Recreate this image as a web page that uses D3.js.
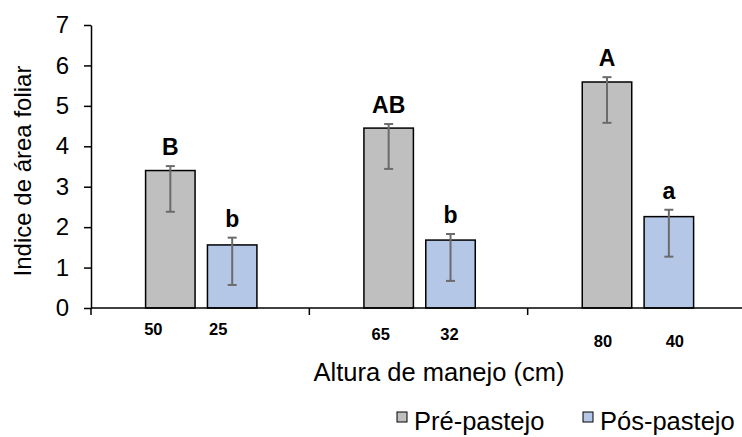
<!DOCTYPE html>
<meta charset="utf-8">
<script src="https://d3js.org/d3.v7.min.js"></script>
<style>
  body { margin: 0; background: #fff; }
  text { font-family: Arial, "Liberation Sans", sans-serif; }
</style>
<body>
<div id="canvas"></div>
<script>
// dados
var grupos = ["g1", "g2", "g3"];
var series = ["Pré-pastejo", "Pós-pastejo"];
var alturas = [["50", "25"], ["65", "32"], ["80", "40"]];
var valores = [[3.40, 1.56], [4.45, 1.68], [5.59, 2.26]];
var erroSup = [[3.51, 1.74], [4.55, 1.83], [5.71, 2.43]];
var erroInf = [[2.38, 0.57], [3.44, 0.67], [4.58, 1.27]];
var letras = [["B", "b"], ["AB", "b"], ["A", "a"]];
var yTicks = [0, 1, 2, 3, 4, 5, 6, 7];

var cores = { "Pré-pastejo": "#bfbfbf", "Pós-pastejo": "#b4c7e7" };
// rotulos das alturas foram colocados a mao no original
var rotuloDx = [[-17, -14], [-8, -1], [-4, 6]];
var rotuloY = [335, 340, 347];

var width = 742, height = 437;
var svg = d3.select("#canvas").append("svg")
    .attr("width", width)
    .attr("height", height);

var mLeft = 91, mRight = 746, mTop = 25, mBottom = 308;

var x0 = d3.scaleBand().domain(grupos).range([mLeft, mRight]);
var gw = x0.bandwidth();
var x1 = d3.scaleBand().domain(series).range([gw * 0.25, gw * 0.76]).paddingInner(0.2);
var y = d3.scaleLinear().domain([0, 7]).range([mBottom, mTop]);

// eixo Y
var yAxis = d3.axisLeft(y).tickValues(yTicks).tickFormat(d3.format("d"))
    .tickSize(7).tickSizeOuter(0).tickPadding(15);
var gy = svg.append("g").attr("transform", "translate(" + mLeft + ",0)").call(yAxis);
gy.select(".domain").attr("stroke", "#000").attr("stroke-width", 1.5);
gy.selectAll(".tick line").attr("stroke", "#000").attr("stroke-width", 1.5);
gy.selectAll(".tick text").attr("font-size", "24px").attr("fill", "#000")
    .attr("font-family", "Arial, 'Liberation Sans', sans-serif");

// barras
var dados = [];
grupos.forEach(function(g, i) {
    series.forEach(function(s, j) {
        dados.push({ g: g, s: s, i: i, j: j, v: valores[i][j], hi: erroSup[i][j], lo: erroInf[i][j],
                     letra: letras[i][j], alt: alturas[i][j] });
    });
});

svg.selectAll(".bar").data(dados).enter().append("rect")
    .attr("x", function(d) { return x0(d.g) + x1(d.s); })
    .attr("y", function(d) { return y(d.v); })
    .attr("width", x1.bandwidth())
    .attr("height", function(d) { return y(0) - y(d.v); })
    .attr("fill", function(d) { return cores[d.s]; })
    .attr("stroke", "#000")
    .attr("stroke-width", 1.5);

// barras de erro
var cx = function(d) { return x0(d.g) + x1(d.s) + x1.bandwidth() / 2; };
var eb = svg.selectAll(".err").data(dados).enter().append("g").attr("stroke", "#6b6b6b").attr("stroke-width", 2);
eb.append("line").attr("x1", cx).attr("x2", cx)
    .attr("y1", function(d) { return y(d.hi); }).attr("y2", function(d) { return y(d.lo); });
eb.append("line").attr("x1", function(d) { return cx(d) - 4.5; }).attr("x2", function(d) { return cx(d) + 4.5; })
    .attr("y1", function(d) { return y(d.hi); }).attr("y2", function(d) { return y(d.hi); });
eb.append("line").attr("x1", function(d) { return cx(d) - 4.5; }).attr("x2", function(d) { return cx(d) + 4.5; })
    .attr("y1", function(d) { return y(d.lo); }).attr("y2", function(d) { return y(d.lo); });

// letras
svg.selectAll(".letra").data(dados).enter().append("text")
    .text(function(d) { return d.letra; })
    .attr("x", cx)
    .attr("y", function(d) { return y(d.hi) - 11; })
    .attr("text-anchor", "middle")
    .attr("font-size", "23px")
    .attr("font-weight", "bold");

// eixo X
svg.append("line").attr("x1", mLeft).attr("x2", width).attr("y1", mBottom).attr("y2", mBottom)
    .attr("stroke", "#000").attr("stroke-width", 1.5);
svg.selectAll(".xtick").data(grupos).enter().append("line")
    .attr("x1", function(g) { return x0(g); }).attr("x2", function(g) { return x0(g); })
    .attr("y1", mBottom).attr("y2", mBottom + 7)
    .attr("stroke", "#000").attr("stroke-width", 1.5);

svg.selectAll(".alt").data(dados).enter().append("text")
    .text(function(d) { return d.alt; })
    .attr("x", function(d) { return cx(d) + rotuloDx[d.i][d.j]; })
    .attr("y", function(d) { return rotuloY[d.i]; })
    .attr("text-anchor", "middle")
    .attr("font-family", "'Open Sans', sans-serif")
    .attr("font-size", "16.5px")
    .attr("font-weight", "bold");

// titulos
svg.append("text").text("Altura de manejo (cm)")
    .attr("x", 439).attr("y", 381)
    .attr("text-anchor", "middle")
    .attr("font-size", "25.5px");

svg.append("text").text("Indice de área foliar")
    .attr("transform", "translate(31,171) rotate(-90)")
    .attr("text-anchor", "middle")
    .attr("font-size", "24px");

// legenda
var legX = [397, 583];
var leg = svg.selectAll(".leg").data(series).enter().append("g")
    .attr("transform", function(d, i) { return "translate(" + legX[i] + ",412)"; });
leg.append("rect").attr("width", 10).attr("height", 10)
    .attr("fill", function(d) { return cores[d]; })
    .attr("stroke", "#000").attr("stroke-width", 1);
leg.append("text").text(function(d) { return d; })
    .attr("x", 17).attr("y", 18)
    .attr("font-size", "25.5px");
</script>
</body>
